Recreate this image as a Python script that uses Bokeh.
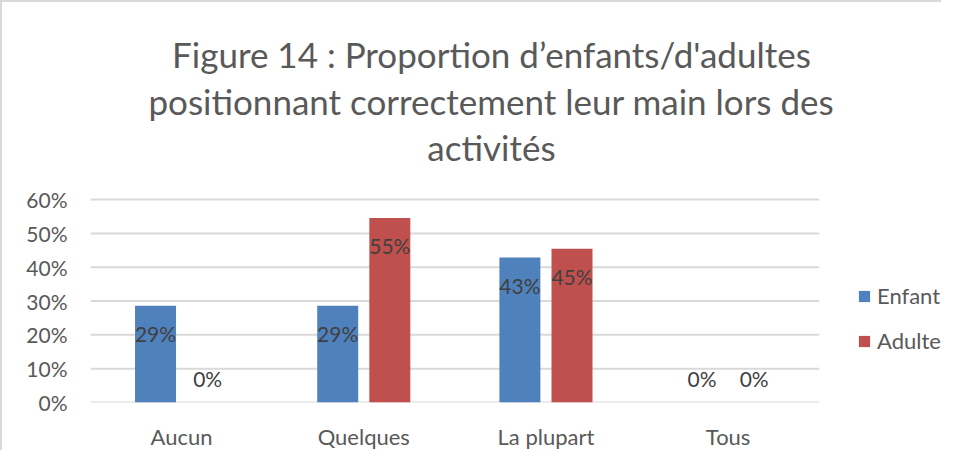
from bokeh.plotting import figure
from bokeh.models import (ColumnDataSource, Range1d, Legend, LegendItem,
                          NumeralTickFormatter, FixedTicker)
from bokeh.core.properties import value
from bokeh.embed import file_html
from bokeh.resources import INLINE

# ---- data ----
categories = ["Aucun", "Quelques", "La plupart", "Tous"]
enfant = [0.2857, 0.2857, 0.4286, 0.0]
adulte = [0.0, 0.5455, 0.4545, 0.0]
series_names = ["Enfant", "Adulte"]
y_ticks = [0.0, 0.1, 0.2, 0.3, 0.4, 0.5, 0.6]
title_lines = ["Figure 14 : Proportion d\u2019enfants/d'adultes",
               "positionnant correctement leur main lors des",
               "activités"]

# ---- style / layout ----
FONT = "Lato"
BLUE = "#4F81BD"
RED = "#C0504D"
TXT = "#595959"
LBL = "#404040"
GRID = "#D9D9D9"

W, H = 941, 450
BORDER = 2
ML, MB = 88, 40
FRAME_W = W - BORDER - ML
FRAME_H = H - BORDER - MB
PLOT_PX_W = 727          # width of the bar area
PLOT_PX_H = 207          # height of 0..60%
YMAX = 0.6
ORIGIN_X, ORIGIN_Y = BORDER + ML, BORDER + FRAME_H
px_per_cat = PLOT_PX_W / len(categories)
x_end = FRAME_W / px_per_cat
y_end = FRAME_H * YMAX / PLOT_PX_H

def xdata(px):
    return (px - ORIGIN_X) / px_per_cat

def ydata(py):
    return (ORIGIN_Y - py) * YMAX / PLOT_PX_H

p = figure(width=W, height=H, x_range=Range1d(0, x_end), y_range=Range1d(0, y_end),
           output_backend="svg", toolbar_location=None,
           min_border_left=ML, min_border_right=0, min_border_top=0,
           min_border_bottom=MB)
p.styles = {"border-top": "2px solid #D9D9D9", "border-left": "2px solid #D9D9D9"}
p.outline_line_color = None
p.background_fill_color = "white"
p.border_fill_color = "white"
p.xgrid.grid_line_color = None
p.ygrid.grid_line_color = None

centers = [i + 0.5 for i in range(len(categories))]

# gridlines across the bar area only
p.segment(x0=[0] * len(y_ticks), x1=[len(categories)] * len(y_ticks),
          y0=y_ticks, y1=y_ticks, line_color=GRID, line_width=2)

def lab(v):
    return f"{round(v * 100)}%"

def offs(vals):
    return [28 if v > 0 else -24 for v in vals]

BW = 0.225
OFF = 0.143
src = ColumnDataSource(dict(
    xe=[c - OFF for c in centers], xa=[c + OFF for c in centers],
    enfant=enfant, adulte=adulte,
    el=[lab(v) for v in enfant], al=[lab(v) for v in adulte],
    eo=offs(enfant), ao=offs(adulte),
))

r1 = p.vbar(x="xe", top="enfant", width=BW, source=src,
            fill_color=BLUE, line_color=None)
r2 = p.vbar(x="xa", top="adulte", width=BW, source=src,
            fill_color=RED, line_color=None)

p.text(x="xe", y="enfant", text="el", source=src, y_offset="eo",
       text_align="center", text_baseline="middle",
       text_font=value(FONT), text_font_size="21px", text_color=LBL)
p.text(x="xa", y="adulte", text="al", source=src, y_offset="ao",
       text_align="center", text_baseline="middle",
       text_font=value(FONT), text_font_size="21px", text_color=LBL)

# axes
p.yaxis.ticker = FixedTicker(ticks=y_ticks)
p.yaxis.formatter = NumeralTickFormatter(format="0%")
p.yaxis.axis_line_color = None
p.yaxis.major_tick_line_color = None
p.yaxis.minor_tick_line_color = None
p.yaxis.major_label_standoff = 17
p.yaxis.major_label_text_font = FONT
p.yaxis.major_label_text_font_size = "21px"
p.yaxis.major_label_text_color = TXT

p.xaxis.ticker = FixedTicker(ticks=centers)
p.xaxis.major_label_overrides = {c: n for c, n in zip(centers, categories)}
p.xaxis.axis_line_color = None
p.xaxis.major_tick_line_color = None
p.xaxis.minor_tick_line_color = None
p.xaxis.major_label_standoff = 14
p.xaxis.major_label_text_font = FONT
p.xaxis.major_label_text_font_size = "22px"
p.xaxis.major_label_text_color = TXT

# title: three centred lines
p.text(x=[xdata(490)] * 3, y=[ydata(b) for b in (55, 102, 149)], text=title_lines,
       text_align="center", text_baseline="middle",
       text_font=value(FONT), text_font_size="35px", text_color=TXT)

legend = Legend(items=[LegendItem(label=series_names[0], renderers=[r1]),
                       LegendItem(label=series_names[1], renderers=[r2])],
                location=(767, 48), orientation="vertical",
                glyph_width=14, glyph_height=14, label_height=22,
                label_standoff=6, spacing=18, padding=0, margin=0,
                label_text_font=FONT, label_text_font_size="22px",
                label_text_color=TXT, border_line_color=None,
                background_fill_alpha=0)
p.add_layout(legend, "center")

open("out.html", "w").write(file_html(p, INLINE))
